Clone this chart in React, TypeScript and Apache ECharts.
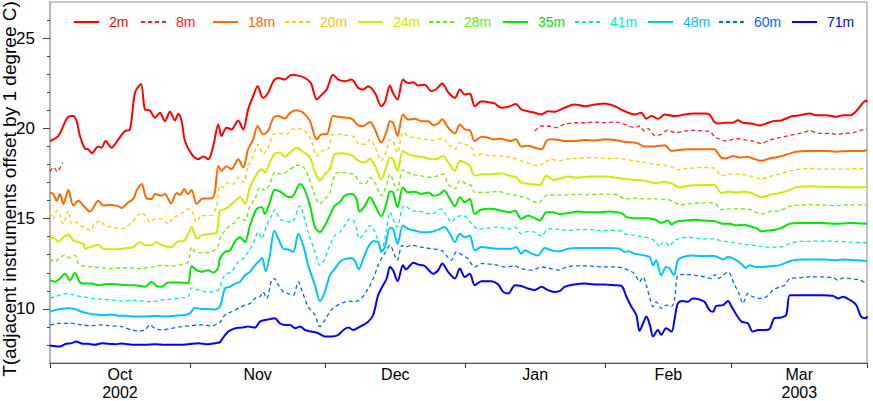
import React, { useEffect, useRef } from "react";
import * as echarts from "echarts";

// x values: days since 1 Oct 2002; y values: temperature (deg C, offset)
const seriesNames = ["2m", "8m", "18m", "20m", "24m", "28m", "35m", "41m", "48m", "60m", "71m"];
const seriesColors = ["#ff0000", "#ff1a1a", "#ff6a00", "#ffc800", "#c4f000", "#66f000", "#00e600", "#00f0c0", "#00c4ff", "#0066ff", "#0000ff"];
const seriesDashed = [false, true, false, true, false, true, false, true, false, true, false];

const monthStartDays = [0, 31, 61, 92, 123, 151, 181];
const monthLabelDays = [15.5, 46, 76.5, 107.5, 137, 166];
const monthLabels = ["Oct\n2002", "Nov", "Dec", "Jan", "Feb", "Mar\n2003"];
const yMajorTicks = [10, 15, 20, 25];
const yMinorTicks = [8, 9, 10, 11, 12, 13, 14, 15, 16, 17, 18, 19, 20, 21, 22, 23, 24, 25, 26];
const yAxisTitle = "T(adjacent instruments offset by 1 degree C)";

const s2m = [[0,19.3],[1.85,19.58],[4.06,20.64],[5.17,20.68],[5.9,20.4],[6.64,19.58],[7.75,18.88],[8.49,18.84],[9.23,18.62],[10.7,18.99],[11.44,18.93],[12.3,19.3],[13.65,18.93],[15.13,19.39],[16.6,19.85],[17.71,19.94],[18.82,21.96],[20.15,22.46],[21.04,21.05],[22.14,20.99],[23.25,20.59],[24.36,20.86],[25.47,20.4],[26.57,20.92],[27.68,20.44],[28.42,20.81],[29.16,20.4],[29.9,19.3],[31.37,18.57],[32.85,18.29],[33.96,18.44],[35.07,18.29],[36.17,19.03],[37.28,20.22],[38.0,19.58],[39.1,20.04],[40.2,19.94],[41.7,20.44],[42.8,19.94],[43.9,21.05],[45.0,21.78],[46.0,22.33],[47.2,21.69],[48.3,21.96],[49.5,22.61],[50.6,22.79],[52.0,22.7],[53.5,22.97],[55.0,22.92],[56.5,22.79],[57.8,22.51],[59.1,21.6],[60.2,21.87],[61.3,22.15],[62.7,22.97],[63.9,22.7],[65.3,22.61],[66.8,22.7],[68.3,22.24],[69.4,22.15],[70.5,22.33],[72.0,21.96],[73.4,21.23],[74.2,21.45],[75.3,22.37],[76.0,21.96],[77.0,21.6],[78.2,22.7],[79.3,22.51],[80.5,22.55],[81.6,22.37],[83.0,22.42],[84.5,22.06],[85.6,22.18],[86.9,22.48],[88.2,22.0],[89.7,21.69],[90.8,22.15],[91.9,21.87],[93.0,21.93],[94.1,21.23],[95.6,21.5],[97.1,21.45],[98.5,21.38],[100.0,21.14],[101.9,21.23],[103.2,21.35],[104.4,21.05],[105.9,20.95],[107.4,20.86],[108.9,20.77],[110.3,20.95],[111.8,20.92],[114.0,21.14],[116.2,21.32],[118.5,21.23],[120.7,21.32],[122.9,21.38],[125.1,21.23],[127.3,20.95],[129.5,20.77],[131.0,20.86],[132.1,20.53],[133.2,20.68],[134.7,20.53],[136.2,20.77],[138.4,20.68],[140.6,20.77],[142.8,20.82],[145.0,20.82],[146.1,20.77],[147.2,20.35],[148.0,20.27],[149.8,20.31],[151.3,20.31],[152.4,20.45],[153.5,20.31],[155.4,20.27],[157.2,20.16],[158.7,20.27],[160.2,20.4],[162.0,20.44],[163.5,20.59],[164.6,20.68],[166.1,20.72],[168.3,20.82],[169.8,20.72],[172.0,20.73],[174.2,20.64],[175.7,20.72],[177.2,20.72],[178.6,20.95],[180.1,21.41],[180.8,21.54],[181,21.45]];

const s8m = [[0,17.6],[0.8,17.85],[1.6,17.6],[2.8,18.1],[3.2,null],[107.4,19.85],[108.9,20.13],[110.3,20.13],[111.8,20.04],[114.0,20.22],[116.2,20.31],[118.5,20.31],[120.7,20.35],[122.9,20.31],[125.1,20.35],[127.3,20.22],[129.5,20.04],[130.6,20.13],[131.7,19.85],[132.5,19.98],[134.0,19.61],[135.4,19.67],[136.9,19.9],[138.4,19.76],[140.6,19.85],[142.8,19.89],[145.0,19.85],[146.1,19.85],[147.2,19.54],[147.6,19.48],[149.8,19.3],[152.1,19.43],[154.3,19.35],[155.7,19.3],[157.6,19.17],[159.4,19.35],[161.6,19.48],[163.9,19.61],[166.1,19.72],[168.3,19.85],[170.5,19.72],[172.7,19.72],[174.2,19.67],[175.7,19.72],[177.9,19.76],[179.7,19.9],[181,19.94]];

const s18m = [[0,16.45],[0.74,16.36],[1.48,15.99],[2.21,16.36],[2.95,15.81],[4.06,16.58],[5.17,15.72],[6.27,15.99],[7.38,15.72],[8.86,15.39],[10.7,15.99],[11.8,15.72],[13.29,15.76],[14.76,15.72],[15.87,15.59],[17.34,15.9],[18.45,16.09],[19.19,16.55],[20.3,16.91],[21.4,16.12],[22.5,16.09],[23.25,16.36],[24.7,16.27],[25.47,16.36],[26.8,15.85],[28.05,16.42],[28.79,16.31],[29.75,16.64],[30.5,16.36],[31.37,16.58],[32.5,15.81],[33.6,16.09],[34.3,16.12],[35.8,16.12],[36.5,16.45],[37.3,17.92],[38.0,17.65],[39.1,17.9],[40.2,17.74],[41.7,18.29],[42.8,17.83],[43.9,18.84],[45.0,19.39],[46.0,20.13],[47.2,19.67],[48.3,19.85],[49.5,20.59],[50.6,20.68],[52.0,20.54],[53.2,20.86],[54.6,21.0],[56.1,20.86],[57.6,20.4],[59.1,19.39],[60.2,19.67],[61.3,19.67],[62.7,20.68],[63.9,20.64],[65.7,20.59],[66.8,20.54],[68.3,20.17],[69.4,20.13],[70.9,20.35],[72.0,19.94],[73.4,19.21],[74.6,19.85],[75.3,20.4],[76.0,20.31],[77.0,19.58],[78.2,20.77],[79.3,20.49],[80.8,20.53],[82.3,20.4],[83.8,20.4],[84.9,20.17],[86.0,20.27],[86.9,20.5],[88.2,20.04],[89.7,19.72],[90.8,20.22],[91.9,19.94],[93.0,19.9],[94.1,19.3],[95.6,19.54],[97.1,19.48],[98.5,19.39],[100.0,19.43],[101.9,19.3],[103.2,19.39],[104.4,19.0],[105.9,19.03],[107.4,18.93],[108.9,18.84],[110.0,19.3],[111.1,19.39],[112.9,19.35],[114.0,19.3],[116.2,19.3],[118.5,19.35],[120.7,19.33],[122.9,19.39],[125.1,19.35],[127.3,19.25],[129.5,19.21],[130.6,19.12],[131.7,18.99],[134.0,18.99],[136.2,19.07],[137.7,18.75],[139.1,18.8],[141.3,18.84],[144.3,18.84],[147.2,18.84],[147.6,18.75],[148.7,18.38],[149.8,18.33],[151.3,18.47],[152.8,18.38],[154.3,18.43],[155.7,18.33],[157.6,18.2],[159.4,18.33],[161.6,18.43],[163.5,18.57],[165.3,18.7],[167.6,18.75],[169.8,18.75],[172.0,18.75],[174.2,18.7],[177.2,18.75],[180.1,18.75],[181,18.8]];

const s20m = [[0,15.35],[0.74,14.98],[1.48,15.44],[2.21,15.17],[2.95,14.71],[4.06,15.44],[4.8,14.71],[5.9,14.8],[6.64,14.62],[7.75,14.53],[8.86,14.34],[9.96,14.71],[11.07,14.89],[12.18,14.62],[13.65,14.53],[15.87,14.43],[18.08,14.8],[20.3,15.32],[21.04,15.17],[22.14,14.8],[23.25,14.98],[24.73,14.98],[26.2,14.71],[27.31,15.08],[28.42,15.17],[29.52,15.35],[30.63,15.54],[31.37,15.44],[32.48,14.8],[33.58,15.17],[35.8,15.17],[36.9,15.72],[37.64,16.82],[38.4,16.73],[39.5,17.0],[40.6,16.91],[41.7,17.28],[42.8,17.0],[43.9,17.92],[45.0,18.47],[46.1,19.12],[47.2,18.57],[48.3,18.93],[49.5,19.67],[50.9,19.72],[52.4,19.67],[53.5,19.94],[55.0,19.98],[56.5,19.85],[57.8,19.39],[59.1,18.47],[60.2,18.75],[61.6,18.84],[62.7,19.67],[64.2,19.67],[65.7,19.61],[67.2,19.54],[68.6,19.12],[69.8,19.12],[70.9,19.39],[72.0,18.99],[73.4,18.2],[74.6,18.84],[75.3,19.39],[76.0,19.3],[77.0,18.66],[78.2,19.8],[79.3,19.58],[80.8,19.48],[82.3,19.43],[84.5,19.35],[86.0,19.39],[87.1,19.43],[88.2,19.12],[89.7,18.84],[90.8,19.21],[91.9,19.12],[93.4,18.93],[94.1,18.47],[95.6,18.57],[97.8,18.47],[100.0,18.47],[102.2,18.38],[104.4,18.2],[106.7,18.01],[108.1,17.92],[109.6,18.11],[111.1,18.29],[112.9,18.2],[114.0,18.29],[116.2,18.33],[118.5,18.36],[120.7,18.38],[122.9,18.33],[125.1,18.33],[127.3,18.29],[129.5,18.2],[131.7,18.11],[134.0,18.01],[136.2,17.96],[138.0,17.83],[139.1,17.7],[141.3,17.78],[144.3,17.83],[147.2,17.8],[148.7,17.37],[150.6,17.46],[152.8,17.46],[155.0,17.37],[157.6,17.19],[159.4,17.33],[161.6,17.46],[163.9,17.65],[166.1,17.74],[168.3,17.78],[170.5,17.74],[172.7,17.74],[175.7,17.74],[178.6,17.78],[181,17.78]];

const s24m = [[0,13.97],[1.11,13.88],[1.85,13.7],[2.95,13.97],[4.06,14.12],[5.17,13.79],[6.27,13.7],[7.38,13.61],[7.75,13.33],[8.86,13.42],[10.7,13.55],[11.81,13.33],[13.65,13.3],[15.87,13.33],[17.35,13.38],[18.45,13.42],[19.93,13.7],[21.04,13.52],[22.51,13.52],[23.62,13.7],[24.73,13.52],[26.94,13.42],[28.42,13.74],[29.52,13.74],[30.26,13.97],[31.37,14.53],[32.11,14.07],[32.48,13.88],[33.58,14.07],[35.8,14.16],[36.9,14.21],[37.64,15.44],[38.75,15.54],[39.9,15.72],[41.0,15.99],[42.1,16.18],[43.2,15.81],[44.3,16.73],[45.8,17.46],[46.9,17.74],[47.6,17.56],[48.7,18.11],[49.7,18.57],[50.9,18.66],[52.0,18.43],[53.2,18.66],[54.6,18.93],[56.1,18.7],[57.6,18.38],[58.7,17.56],[59.8,17.1],[60.9,17.46],[62.0,17.74],[63.1,18.57],[64.6,18.62],[66.1,18.57],[67.2,18.47],[68.3,18.2],[69.8,18.11],[70.9,18.33],[72.0,17.92],[73.4,17.19],[74.6,17.92],[75.3,18.38],[76.0,18.29],[77.0,17.65],[78.2,18.75],[79.3,18.57],[80.8,18.47],[83.0,18.38],[84.5,18.29],[86.0,18.33],[87.1,18.47],[88.2,18.11],[89.7,17.65],[90.8,18.2],[91.9,18.11],[93.0,17.92],[94.1,17.37],[95.6,17.46],[97.8,17.46],[100.0,17.51],[101.9,17.37],[103.3,17.28],[104.4,17.0],[106.7,16.91],[108.5,16.86],[110.0,17.37],[111.4,17.15],[112.9,17.22],[114.8,17.33],[116.2,17.28],[118.5,17.31],[120.7,17.33],[122.9,17.33],[125.1,17.28],[127.3,17.19],[129.5,17.15],[131.7,17.1],[134.0,16.97],[136.2,17.04],[138.0,16.91],[139.5,16.73],[141.3,16.82],[144.3,16.86],[147.2,16.86],[148.7,16.42],[150.2,16.49],[152.1,16.45],[153.5,16.49],[155.4,16.42],[157.6,16.18],[159.4,16.31],[161.6,16.42],[163.5,16.55],[165.3,16.73],[167.6,16.78],[170.5,16.77],[173.5,16.77],[176.4,16.73],[179.4,16.73],[181,16.77]];

const s28m = [[0,12.78],[1.11,12.6],[2.21,12.87],[3.32,12.96],[4.43,12.82],[5.54,12.96],[6.27,12.51],[7.38,12.38],[9.23,12.32],[11.44,12.28],[13.65,12.23],[15.87,12.28],[18.08,12.27],[20.3,12.23],[22.51,12.32],[24.73,12.41],[26.94,12.38],[29.16,12.45],[30.63,12.6],[31.37,13.42],[32.11,13.15],[32.85,13.1],[34.32,13.11],[35.8,13.15],[37.27,13.52],[37.64,13.88],[38.75,14.34],[39.9,14.62],[41.0,14.8],[42.1,15.08],[43.2,14.89],[44.3,15.72],[45.4,16.09],[46.5,16.73],[47.6,16.55],[48.7,16.91],[49.8,17.56],[51.3,17.46],[52.8,17.65],[54.3,17.92],[55.4,17.96],[56.5,17.74],[57.6,17.1],[58.7,16.27],[59.8,15.81],[60.9,16.09],[62.0,16.45],[63.1,17.46],[64.6,17.56],[66.1,17.52],[67.5,17.41],[68.6,17.0],[69.8,16.91],[70.9,17.28],[72.0,17.0],[73.4,16.27],[74.6,16.91],[75.3,17.46],[76.9,16.55],[78.2,17.7],[80.1,17.46],[82.3,17.37],[84.5,17.28],[87.1,17.46],[88.2,16.91],[89.7,16.64],[90.8,17.1],[92.3,16.91],[93.4,16.82],[94.1,16.45],[96.3,16.45],[99.3,16.5],[101.5,16.36],[103.7,16.27],[105.9,16.09],[108.1,15.87],[110.3,16.31],[112.9,16.3],[114.8,16.31],[117.0,16.36],[119.2,16.31],[121.4,16.36],[123.6,16.36],[125.8,16.31],[127.3,16.09],[129.5,16.13],[131.7,16.09],[134.0,16.09],[136.9,16.05],[138.4,15.9],[139.5,15.76],[141.3,15.81],[144.3,15.87],[147.2,15.87],[148.7,15.5],[150.6,15.54],[152.8,15.54],[155.0,15.5],[157.6,15.26],[159.4,15.39],[161.6,15.44],[163.9,15.68],[166.1,15.76],[168.3,15.78],[171.2,15.76],[174.2,15.72],[177.2,15.76],[181,15.76]];

const s35m = [[0,11.59],[1.11,11.5],[2.21,11.68],[3.32,11.95],[4.43,11.59],[5.54,11.99],[6.64,11.46],[7.75,11.4],[9.23,11.4],[10.7,11.31],[12.92,11.38],[15.13,11.35],[17.35,11.31],[18.82,11.31],[21.04,11.22],[22.51,11.5],[23.62,11.26],[24.73,11.22],[26.2,11.46],[28.42,11.46],[29.9,11.44],[30.63,11.4],[31.37,12.38],[32.48,12.14],[33.58,12.05],[35.06,12.14],[36.17,12.01],[37.27,12.27],[37.64,12.78],[38.75,13.15],[39.9,13.24],[41.0,13.74],[42.1,13.97],[43.2,13.7],[44.3,14.62],[45.8,15.54],[46.9,15.63],[47.6,15.26],[48.7,15.9],[49.8,16.6],[51.3,16.45],[52.4,16.23],[53.5,16.18],[55.4,16.91],[56.5,16.55],[57.6,15.72],[58.7,14.53],[59.8,14.25],[60.9,14.62],[62.0,15.17],[63.1,15.72],[64.2,15.9],[65.3,16.27],[66.8,16.36],[67.9,16.09],[68.6,15.39],[69.8,15.72],[70.9,16.18],[72.0,15.72],[73.4,15.13],[74.6,15.9],[75.3,16.5],[76.0,16.45],[77.0,15.63],[78.2,16.73],[79.3,16.45],[80.8,16.49],[82.3,16.36],[83.8,16.45],[84.9,16.27],[86.4,16.36],[87.3,16.55],[88.6,16.09],[89.7,15.68],[90.8,16.18],[91.9,15.9],[93.0,16.09],[94.1,15.26],[95.6,15.5],[97.8,15.54],[100.0,15.44],[101.9,15.35],[103.0,15.44],[104.4,14.98],[105.9,15.17],[107.4,15.02],[108.5,14.89],[110.0,15.35],[111.4,15.35],[112.9,15.25],[114.8,15.31],[117.0,15.39],[119.2,15.35],[121.4,15.35],[123.6,15.39],[125.8,15.35],[126.9,15.26],[127.7,15.08],[129.5,15.02],[131.7,15.02],[134.0,14.95],[135.4,14.76],[136.9,14.89],[137.7,14.67],[138.8,14.84],[140.6,14.89],[142.8,14.93],[145.0,14.89],[147.2,14.86],[149.1,14.71],[150.6,14.71],[152.1,14.62],[153.5,14.66],[155.0,14.58],[156.5,14.47],[157.6,14.29],[159.1,14.34],[160.9,14.4],[162.4,14.53],[163.9,14.71],[166.1,14.76],[168.3,14.76],[171.2,14.76],[174.2,14.71],[177.2,14.75],[181,14.71]];

const s41m = [[0,10.61],[1.11,10.67],[2.21,10.76],[3.69,10.85],[4.8,10.8],[5.9,10.72],[7.38,10.67],[9.23,10.58],[11.44,10.54],[13.65,10.49],[15.87,10.43],[18.08,10.49],[20.3,10.43],[22.51,10.39],[24.73,10.49],[26.94,10.54],[29.16,10.61],[30.63,10.67],[31.37,11.16],[32.85,11.04],[34.32,10.94],[35.8,10.94],[37.27,11.04],[37.64,11.22],[38.75,11.9],[40.2,12.05],[41.7,12.6],[42.8,12.78],[43.9,13.15],[45.0,13.61],[46.1,14.25],[46.9,13.88],[48.0,14.62],[49.1,15.17],[49.8,15.5],[50.9,14.98],[52.0,14.89],[53.5,14.8],[55.4,15.72],[56.1,15.26],[57.2,14.25],[58.7,13.15],[59.8,12.41],[60.9,12.78],[62.0,13.52],[63.1,14.07],[64.2,14.25],[65.3,14.62],[66.4,14.98],[67.5,14.8],[68.6,13.88],[69.8,14.25],[70.9,14.62],[72.0,14.25],[73.4,13.24],[74.6,14.43],[75.3,15.35],[76.9,14.53],[78.0,15.54],[78.6,15.72],[80.1,15.44],[82.3,15.39],[84.5,15.26],[86.7,15.54],[87.8,15.17],[88.9,14.8],[90.0,15.08],[91.5,15.17],[92.6,14.98],[93.7,14.62],[94.8,14.43],[97.1,14.47],[99.3,14.53],[101.5,14.43],[103.0,14.53],[104.4,14.16],[105.9,14.29],[107.4,14.25],[108.9,14.03],[110.3,14.43],[112.9,14.4],[114.8,14.34],[117.0,14.38],[119.2,14.4],[121.4,14.34],[123.6,14.34],[126.2,14.34],[127.3,14.16],[129.5,14.07],[131.7,13.97],[133.2,13.88],[134.3,13.7],[135.1,13.42],[135.8,13.7],[136.5,13.66],[137.3,13.47],[138.0,13.7],[139.1,13.88],[141.3,13.97],[144.3,13.88],[147.2,13.88],[148.4,13.79],[150.6,13.7],[152.8,13.61],[155.0,13.55],[157.2,13.47],[159.4,13.42],[161.6,13.42],[163.9,13.61],[166.1,13.74],[168.3,13.74],[171.2,13.76],[174.2,13.74],[177.2,13.7],[181,13.66]];

const s48m = [[0,9.84],[1.11,9.93],[2.58,9.99],[4.06,10.03],[5.54,9.99],[7.01,9.84],[8.49,9.75],[9.96,9.69],[11.07,9.66],[12.18,9.66],[13.65,9.69],[15.13,9.62],[16.61,9.62],[18.82,9.57],[21.04,9.57],[23.25,9.62],[25.47,9.57],[27.68,9.62],[29.9,9.66],[31.0,9.75],[32.11,10.06],[33.58,9.99],[35.06,9.99],[36.54,9.97],[37.64,10.12],[38.75,11.13],[39.9,11.22],[41.0,11.4],[42.1,11.5],[43.2,11.86],[44.3,12.05],[45.4,12.41],[46.5,12.69],[47.0,12.82],[47.8,12.08],[48.7,12.96],[49.7,14.34],[50.6,13.88],[51.7,13.33],[52.8,13.29],[53.9,13.15],[55.0,14.16],[56.1,13.52],[57.2,12.41],[58.7,11.31],[59.8,10.43],[60.9,10.94],[62.0,11.86],[63.1,12.23],[64.6,12.69],[65.7,12.78],[66.8,12.82],[67.5,12.69],[68.4,12.19],[69.4,12.78],[70.5,13.42],[71.6,13.74],[72.7,13.7],[73.4,13.15],[74.2,13.42],[75.3,14.48],[76.0,14.43],[77.0,13.61],[78.2,14.62],[79.3,14.43],[80.8,14.34],[82.3,14.25],[83.8,14.25],[84.9,14.29],[86.4,14.43],[87.3,14.53],[88.6,14.16],[89.7,13.7],[90.8,14.16],[91.9,13.97],[93.0,14.07],[94.1,13.24],[95.6,13.42],[97.8,13.36],[100.0,13.33],[102.2,13.33],[103.3,13.42],[104.4,13.06],[105.2,13.24],[106.7,13.06],[108.1,12.96],[109.6,13.37],[111.1,13.24],[112.9,13.19],[114.8,13.33],[117.0,13.37],[119.2,13.37],[121.4,13.37],[123.6,13.37],[126.2,13.33],[127.3,13.15],[128.1,13.19],[129.5,13.06],[131.7,12.96],[132.9,12.87],[133.6,12.41],[134.3,12.69],[135.4,11.86],[136.5,12.32],[137.3,12.23],[138.2,11.86],[139.1,12.69],[140.2,12.87],[142.1,12.96],[144.3,12.93],[147.2,12.93],[149.1,12.74],[150.2,12.87],[152.1,12.69],[153.5,12.41],[154.1,12.27],[155.0,12.41],[156.5,12.32],[158.0,12.32],[160.2,12.38],[161.6,12.41],[163.1,12.56],[164.6,12.69],[166.8,12.74],[169.0,12.74],[172.0,12.73],[174.2,12.69],[175.7,12.73],[178.6,12.69],[181,12.65]];

const s60m = [[0,9.11],[2.21,9.2],[4.8,9.2],[7.01,9.11],[9.23,9.07],[11.44,9.11],[13.65,9.05],[15.87,9.02],[18.08,8.83],[19.56,8.78],[21.04,8.83],[22.14,9.11],[23.25,8.92],[24.73,8.83],[26.94,8.92],[29.16,9.02],[31.37,9.07],[33.58,9.11],[35.8,9.05],[37.27,9.2],[37.64,9.24],[38.75,9.66],[40.2,9.84],[41.7,10.03],[43.2,10.21],[44.3,10.3],[45.4,10.58],[46.5,10.67],[47.2,10.94],[48.0,10.58],[49.1,11.59],[49.7,11.68],[50.6,11.31],[51.7,10.94],[52.8,10.85],[53.9,10.76],[55.0,11.5],[55.9,10.94],[57.2,10.12],[58.7,9.66],[59.8,9.02],[60.9,9.38],[62.0,9.84],[63.1,10.12],[64.6,10.3],[66.1,10.43],[67.5,10.39],[69.0,10.58],[70.5,11.13],[71.6,11.68],[72.7,12.41],[73.4,12.78],[74.2,13.1],[75.3,13.52],[76.9,12.69],[78.0,13.52],[78.6,13.42],[80.1,13.52],[82.3,13.42],[84.5,13.33],[86.7,13.24],[87.8,12.96],[88.9,12.69],[90.0,13.15],[91.5,12.96],[92.6,12.78],[94.1,12.32],[95.6,12.51],[98.5,12.45],[100.8,12.32],[103.0,12.38],[104.4,12.23],[106.7,12.14],[108.9,12.32],[110.3,12.27],[112.9,12.14],[114.0,12.27],[116.2,12.38],[119.2,12.38],[122.2,12.32],[125.1,12.32],[127.3,12.23],[129.5,11.95],[130.6,11.5],[131.4,11.77],[132.1,11.31],[132.9,10.58],[133.6,10.12],[134.3,10.39],[135.4,10.03],[136.5,10.21],[137.7,10.12],[138.4,10.58],[139.1,11.86],[140.6,11.9],[142.8,11.86],[145.0,11.77],[146.5,11.68],[147.3,11.9],[148.0,11.68],[149.1,11.86],[150.2,12.05],[151.7,11.31],[152.8,10.76],[153.5,10.3],[154.6,10.85],[155.7,10.67],[157.2,10.58],[158.7,10.67],[160.2,11.04],[161.6,11.22],[162.8,11.31],[163.9,11.68],[166.1,11.72],[168.3,11.77],[171.2,11.77],[173.5,11.72],[174.6,11.59],[175.7,11.72],[177.2,11.68],[179.4,11.59],[181,11.4]];

const s71m = [[0,7.97],[2.21,7.91],[3.32,8.04],[4.8,8.1],[5.9,8.19],[7.01,8.08],[8.49,8.06],[9.96,8.01],[11.44,8.1],[12.92,8.06],[14.39,8.04],[15.87,8.08],[17.35,8.04],[18.82,8.01],[21.04,8.01],[23.25,8.04],[25.47,8.01],[28.42,8.01],[30.63,8.04],[32.85,8.1],[35.06,8.04],[36.54,8.1],[37.64,8.15],[38.0,8.28],[39.5,8.74],[41.0,8.92],[42.4,8.96],[43.9,9.02],[45.4,8.96],[46.5,9.29],[47.6,9.38],[48.7,9.43],[49.8,9.48],[50.9,9.2],[52.0,9.11],[53.2,9.11],[54.3,8.92],[55.4,9.02],[56.5,8.83],[57.9,8.74],[59.4,8.65],[60.9,8.47],[62.4,8.47],[63.9,8.56],[65.0,8.83],[66.1,8.96],[67.2,8.83],[68.3,8.96],[69.4,9.11],[70.5,9.29],[71.6,9.66],[72.7,10.76],[73.8,11.31],[74.6,11.68],[75.3,12.32],[76.0,12.14],[77.0,11.53],[78.2,12.41],[78.9,12.19],[80.5,12.56],[81.6,12.45],[83.0,12.38],[84.9,11.95],[86.0,12.14],[86.9,12.51],[88.2,12.05],[89.7,11.68],[90.8,12.23],[91.9,11.77],[93.0,11.95],[94.1,11.31],[95.6,11.53],[97.8,11.53],[99.3,11.35],[100.4,10.94],[101.5,10.85],[103.0,11.31],[104.4,11.27],[105.9,11.13],[107.4,11.04],[108.9,11.22],[110.3,11.04],[111.8,10.94],[112.9,10.98],[114.0,11.22],[116.2,11.35],[118.5,11.4],[120.7,11.35],[122.9,11.35],[125.1,11.31],[126.6,11.27],[127.7,10.67],[128.8,10.12],[129.9,9.66],[130.6,8.78],[131.4,9.2],[132.1,9.57],[132.9,9.11],[133.6,8.47],[134.7,8.83],[135.4,8.56],[136.5,8.92],[137.7,8.74],[138.4,9.48],[139.1,10.3],[140.2,10.43],[141.3,10.39],[142.4,10.58],[143.6,10.54],[145.0,10.39],[146.1,9.93],[146.9,9.84],[147.6,10.17],[149.1,10.21],[150.2,10.43],[151.0,10.12],[152.1,9.66],[153.2,9.29],[154.6,9.2],[155.7,8.74],[156.9,8.83],[158.3,8.83],[159.4,8.88],[160.5,9.48],[162.0,9.52],[163.1,9.66],[163.9,10.76],[165.3,10.76],[168.3,10.76],[171.2,10.76],[173.5,10.72],[174.6,10.58],[175.7,10.67],[177.2,10.49],[178.6,10.21],[179.7,9.57],[180.8,9.48],[181,9.6]];

const seriesData = [s2m, s8m, s18m, s20m, s24m, s28m, s35m, s41m, s48m, s60m, s71m];

// layout constants
const legendLefts = [73, 140, 212, 284, 357, 428, 502, 574, 647, 718, 791];
const FONT = "'Liberation Sans', Arial, Helvetica, sans-serif";

export default function App() {
  const ref = useRef<HTMLDivElement>(null);
  useEffect(() => {
    if (!ref.current) return;
    const chart = echarts.init(ref.current, null, { renderer: "svg" });
    const option: any = {
      animation: false,
      backgroundColor: "#ffffff",
      textStyle: { fontFamily: FONT },
      grid: { left: 50, right: 6, top: 2, bottom: 36, show: true, borderColor: "#888888", borderWidth: 1, backgroundColor: "transparent" },
      legend: seriesNames.map((n, i) => ({
        data: [{ name: n, textStyle: { color: seriesColors[i] } }],
        left: legendLefts[i],
        top: 15,
        padding: 0,
        itemWidth: 25,
        itemHeight: 14,
        selectedMode: false,
        itemStyle: { opacity: 0 },
        textStyle: { fontSize: 14, fontFamily: FONT, padding: [0, 0, 0, 5] },
      })),
      xAxis: {
        type: "value",
        min: 0,
        max: 181,
        axisLine: { show: true, lineStyle: { color: "#555555", width: 1 } },
        axisTick: { show: true, length: 5, customValues: monthStartDays, lineStyle: { color: "#333333" } },
        axisLabel: {
          customValues: monthLabelDays,
          formatter: (v: number) => {
            const i = monthLabelDays.findIndex((d) => Math.abs(d - v) < 0.01);
            return i >= 0 ? monthLabels[i] : "";
          },
          fontSize: 16,
          lineHeight: 18,
          margin: 2,
          color: "#000000",
          fontFamily: FONT,
        },
        splitLine: { show: false },
      },
      yAxis: [
        {
          type: "value",
          min: 7,
          max: 27,
          position: "left",
          axisLine: { show: true, lineStyle: { color: "#b4b4b4", width: 2 } },
          axisTick: { show: true, length: 3, customValues: yMinorTicks, lineStyle: { color: "#444444" } },
          axisLabel: { customValues: yMajorTicks, fontSize: 17, margin: 15, color: "#000000", fontFamily: FONT },
          splitLine: { show: false },
        },
        {
          type: "value",
          min: 7,
          max: 27,
          position: "left",
          axisLine: { show: false },
          axisTick: { show: true, length: 7, customValues: yMajorTicks, lineStyle: { color: "#444444" } },
          axisLabel: { show: false },
          splitLine: { show: false },
        },
      ],
      graphic: [
        {
          type: "text",
          x: 9,
          y: 189,
          rotation: Math.PI / 2,
          style: {
            text: yAxisTitle,
            fontSize: 19,
            fontFamily: FONT,
            fill: "#000000",
            align: "center",
            verticalAlign: "middle",
            textAlign: "center",
            textVerticalAlign: "middle",
          },
        },
      ],
      series: seriesNames.map((n, i) => ({
        name: n,
        type: "line",
        data: seriesData[i],
        yAxisIndex: 0,
        symbol: "none",
        showSymbol: false,
        smooth: 0.3,
        connectNulls: false,
        lineStyle: {
          color: seriesColors[i],
          width: seriesDashed[i] ? 1.3 : 2,
          type: seriesDashed[i] ? [4, 3] : "solid",
        },
        itemStyle: { color: seriesColors[i] },
      })),
    };
    chart.setOption(option);
    return () => chart.dispose();
  }, []);
  return <div ref={ref} style={{ position: "fixed", left: 0, top: 0, width: 873, height: 401 }} />;
}
